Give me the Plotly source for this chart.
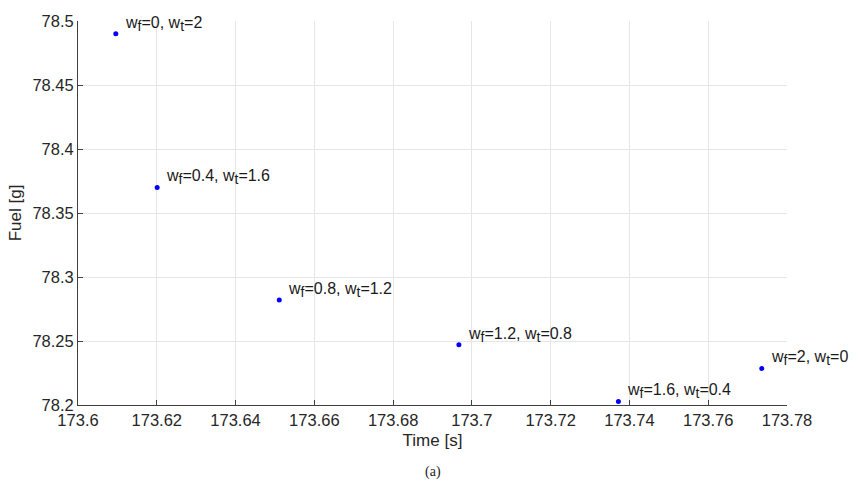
import plotly.graph_objects as go

time_s = [173.6096, 173.6201, 173.6511, 173.6967, 173.7372, 173.7736]
fuel_g = [78.490, 78.370, 78.282, 78.247, 78.2028, 78.2286]
w_f = ["0", "0.4", "0.8", "1.2", "1.6", "2"]
w_t = ["2", "1.6", "1.2", "0.8", "0.4", "0"]

x_ticks = [173.6, 173.62, 173.64, 173.66, 173.68, 173.7, 173.72, 173.74, 173.76, 173.78]
x_tick_labels = ["173.6", "173.62", "173.64", "173.66", "173.68", "173.7", "173.72", "173.74", "173.76", "173.78"]
y_ticks = [78.2, 78.25, 78.3, 78.35, 78.4, 78.45, 78.5]
y_tick_labels = ["78.2", "78.25", "78.3", "78.35", "78.4", "78.45", "78.5"]

FONT = "Liberation Sans, Arial, Helvetica, sans-serif"
SUB = "<sub><span style='font-size:14px'>{}</span></sub>"

fig = go.Figure()
fig.add_trace(go.Scatter(
    x=time_s, y=fuel_g, mode="markers",
    marker=dict(color="#0000ff", size=5),
    hoverinfo="x+y", showlegend=False,
))

for xv, yv, a, b in zip(time_s, fuel_g, w_f, w_t):
    fig.add_annotation(
        x=xv, y=yv, xref="x", yref="y",
        text="w" + SUB.format("f") + "=" + a + ", w" + SUB.format("t") + "=" + b,
        showarrow=False, xanchor="left", yanchor="middle",
        xshift=7, yshift=10,
        font=dict(family=FONT, size=16, color="#1a1a1a"),
    )

fig.add_annotation(
    x=0.5, y=0, xref="paper", yref="paper", yanchor="middle",
    yshift=-67, text="(a)", showarrow=False,
    font=dict(family="Liberation Serif, Times New Roman, serif", size=14, color="#222222"),
)

fig.update_layout(
    width=862, height=484,
    margin=dict(l=78, r=75, t=16, b=79),
    plot_bgcolor="white", paper_bgcolor="white",
    font=dict(family=FONT, size=16, color="#262626"),
)
fig.update_xaxes(
    range=[173.6, 173.78], tickvals=x_ticks, ticktext=x_tick_labels,
    showgrid=True, gridcolor="#e6e6e6", gridwidth=1,
    showline=True, linecolor="#404040", linewidth=1,
    ticks="inside", ticklen=5, tickcolor="#404040",
    zeroline=False,
    title=dict(text="Time [s]", font=dict(size=17), standoff=6),
    tickfont=dict(size=16.5),
)
fig.update_yaxes(
    range=[78.2, 78.5], tickvals=y_ticks, ticktext=y_tick_labels,
    showgrid=True, gridcolor="#e6e6e6", gridwidth=1,
    showline=True, linecolor="#404040", linewidth=1,
    ticks="inside", ticklen=5, tickcolor="#404040",
    zeroline=False,
    title=dict(text="Fuel [g]", font=dict(size=17), standoff=6),
    tickfont=dict(size=16.5),
)

fig.write_html("out.html")
